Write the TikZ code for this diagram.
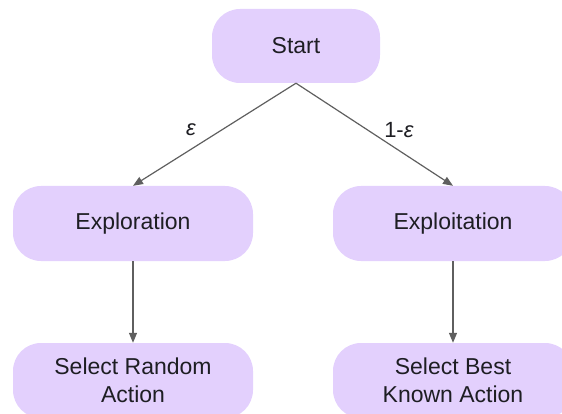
\documentclass[tikz,border=0pt]{standalone}
\usepackage{fontspec}
\setmainfont{Liberation Sans}
\usetikzlibrary{arrows.meta}
\definecolor{boxfill}{RGB}{227,208,253}
\definecolor{edgegray}{RGB}{95,95,95}
\definecolor{txt}{RGB}{30,30,35}
\tikzset{
  stepbox/.style={draw=none, fill=boxfill, rounded corners=28pt,
    minimum width=240pt, minimum height=75pt, inner sep=0pt,
    align=center, text=txt, font=\fontsize{23}{28}\selectfont},
  link/.style={draw=edgegray, line width=1.2pt,
    -{Triangle[length=10pt,width=8pt]}},
  prob/.style={text=txt, font=\fontsize{22}{25}\selectfont}
}
\begin{document}
\begin{tikzpicture}[x=1pt,y=1pt]
  \useasboundingbox (0,0) rectangle (562,-414);
  \clip (0,0) rectangle (562,-414);
  % flowchart boxes
  \node[stepbox, minimum width=168pt, minimum height=74pt] (start) at (296,-46) {Start};
  \node[stepbox] (explore) at (133,-223.5) {Exploration};
  \node[stepbox] (exploit) at (453,-223.5) {Exploitation};
  \node[stepbox] (random) at (133,-380.5) {Select Random\\Action};
  \node[stepbox] (best) at (453,-380.5) {Select Best\\Known Action};
  % branches with their probabilities
  \draw[link] (start.south) -- (explore.north);
  \draw[link] (start.south) -- (exploit.north);
  \draw[link] (explore.south) -- (random.north);
  \draw[link] (exploit.south) -- (best.north);
  \node[prob] (eps) at (191,-130) {\textit{ε}};
  \node[prob] (oneeps) at (399,-130) {1-\textit{ε}};
\end{tikzpicture}
\end{document}
